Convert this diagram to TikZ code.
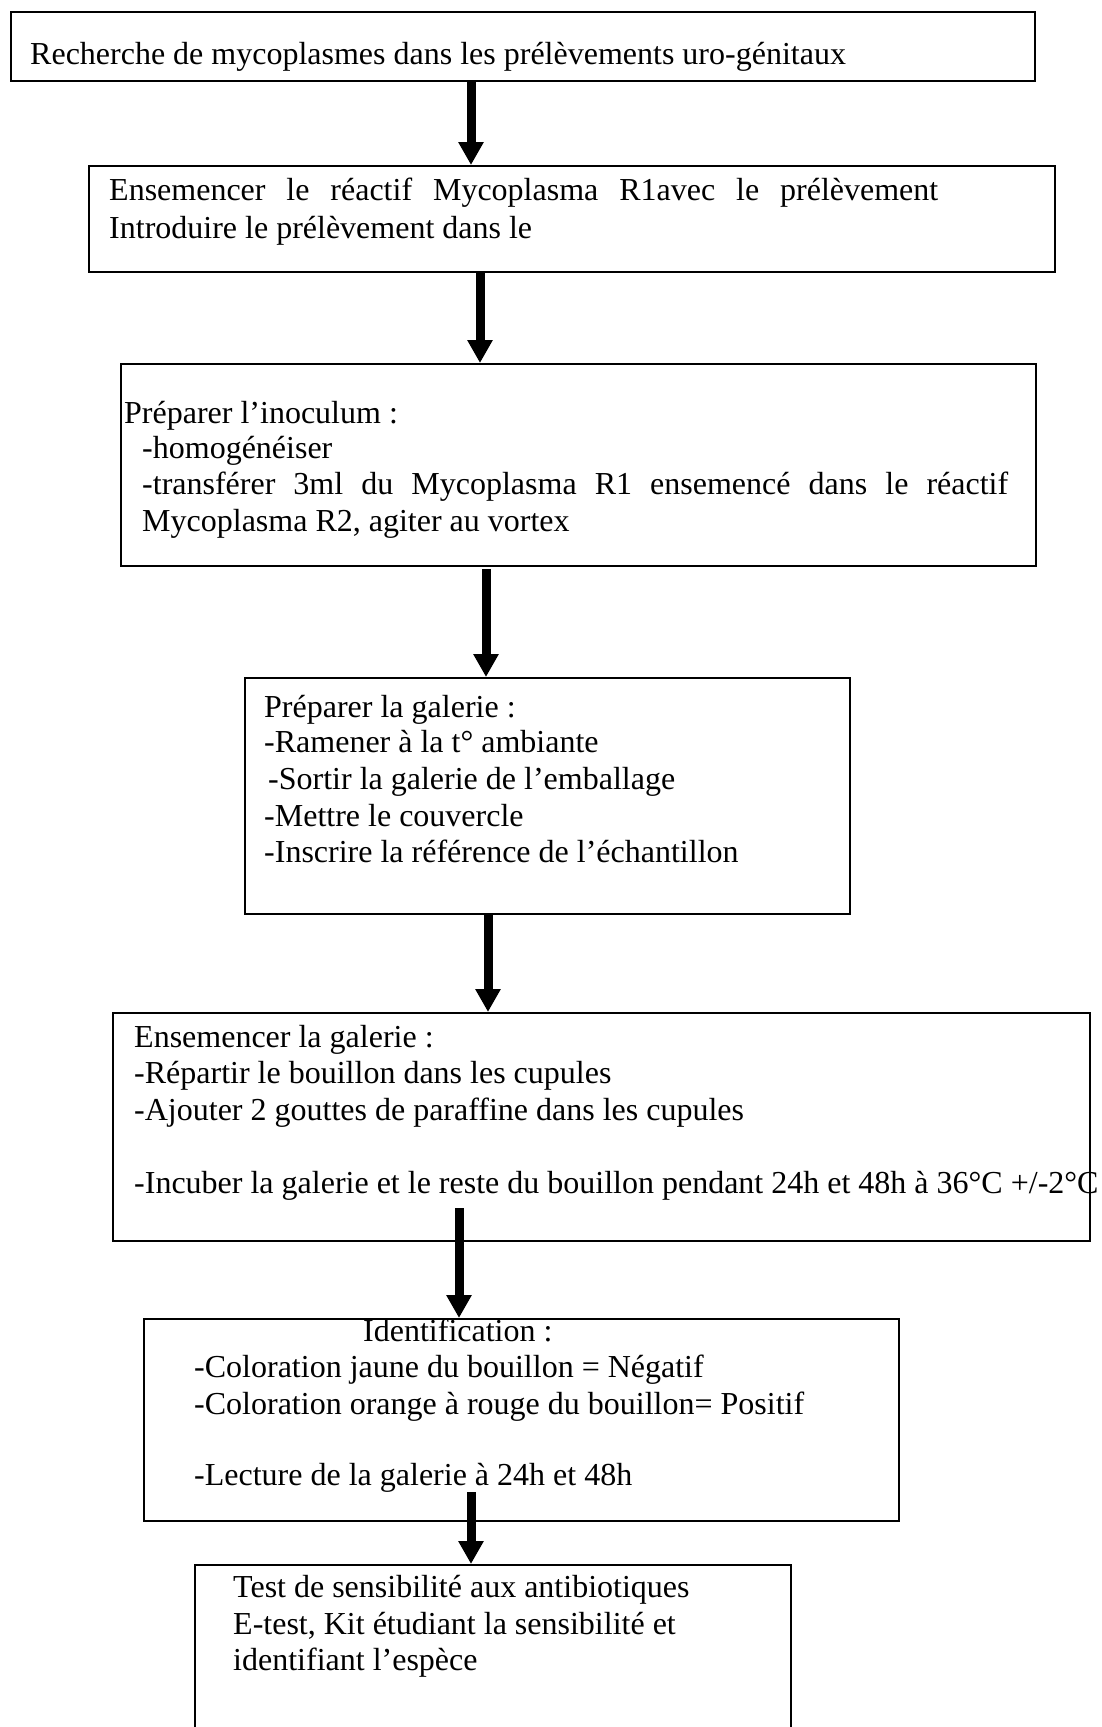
\documentclass[tikz,border=0pt]{standalone}
\usepackage{fontspec}
\setmainfont{Liberation Serif}
\usetikzlibrary{arrows.meta}
\begin{document}
\begin{tikzpicture}[x=1pt,y=-1pt,
  box/.style={draw=black, line width=2.2pt, inner sep=0pt, anchor=north west},
  txt/.style={inner sep=0pt, anchor=base west, font=\fontsize{32}{36.5}\selectfont},
  arr/.style={line width=9pt, -{Triangle[width=24pt,length=23pt]}}]
\useasboundingbox (0,0) rectangle (1101,1727);
\clip (0,0) rectangle (1101,1727);
% boxes
\node[box, minimum width=1024pt, minimum height=69pt] (b1) at (10,11) {};
\node[box, minimum width=966pt, minimum height=106pt] (b2) at (88,165) {};
\node[box, minimum width=915pt, minimum height=202pt] (b3) at (120,363) {};
\node[box, minimum width=605pt, minimum height=236pt] (b4) at (244,677) {};
\node[box, minimum width=977pt, minimum height=228pt] (b5) at (112,1012) {};
\node[box, minimum width=755pt, minimum height=202pt] (b6) at (143,1318) {};
\node[box, minimum width=596pt, minimum height=200pt] (b7) at (194,1564) {};
% texts
\node[txt] (t1) at (30,64) {Recherche de mycoplasmes dans les prélèvements uro-génitaux};
\node[txt] (t2a) at (109,200) {\makebox[829pt][s]{Ensemencer le réactif Mycoplasma R1avec le prélèvement}};
\node[txt] (t2b) at (109,238) {Introduire le prélèvement dans le};
\node[txt] (t3a) at (124,423) {Préparer l’inoculum :};
\node[txt] (t3b) at (142,458) {-homogénéiser};
\node[txt] (t3c) at (142,494) {\makebox[866pt][s]{-transférer 3ml du Mycoplasma R1 ensemencé dans le réactif}};
\node[txt] (t3d) at (142,531) {Mycoplasma R2, agiter au vortex};
\node[txt] (t4a) at (264,717) {Préparer la galerie :};
\node[txt] (t4b) at (264,752) {-Ramener à la t° ambiante};
\node[txt] (t4c) at (268,789) {-Sortir la galerie de l’emballage};
\node[txt] (t4d) at (264,826) {-Mettre le couvercle};
\node[txt] (t4e) at (264,862) {-Inscrire la référence de l’échantillon};
\node[txt] (t5a) at (134,1047) {Ensemencer la galerie :};
\node[txt] (t5b) at (134,1083) {-Répartir le bouillon dans les cupules};
\node[txt] (t5c) at (134,1120) {-Ajouter 2 gouttes de paraffine dans les cupules};
\node[txt] (t5d) at (134,1193) {-Incuber la galerie et le reste du bouillon pendant 24h et 48h à 36°C +/-2°C};
\node[txt] (t6a) at (363,1341) {Identification :};
\node[txt] (t6b) at (194,1377) {-Coloration jaune du bouillon = Négatif};
\node[txt] (t6c) at (194,1414) {-Coloration orange à rouge du bouillon= Positif};
\node[txt] (t6d) at (194,1485) {-Lecture de la galerie à 24h et 48h};
\node[txt] (t7a) at (233,1597) {Test de sensibilité aux antibiotiques};
\node[txt] (t7b) at (233,1634) {E-test, Kit étudiant la sensibilité et};
\node[txt] (t7c) at (233,1670) {identifiant l’espèce};
% arrow start points
\coordinate (s1) at (471,80);
\coordinate (s2) at (480,271);
\coordinate (s3) at (486,569);
\coordinate (s4) at (488,913);
\coordinate (s5) at (459,1208);
\coordinate (s6) at (471,1492);
\draw[arr] (s1) -- (s1 |- b2.north);
\draw[arr] (s2) -- (s2 |- b3.north);
\draw[arr] (s3) -- (s3 |- b4.north);
\draw[arr] (s4) -- (s4 |- b5.north);
\draw[arr] (s5) -- (s5 |- b6.north);
\draw[arr] (s6) -- (s6 |- b7.north);
\end{tikzpicture}
\end{document}
